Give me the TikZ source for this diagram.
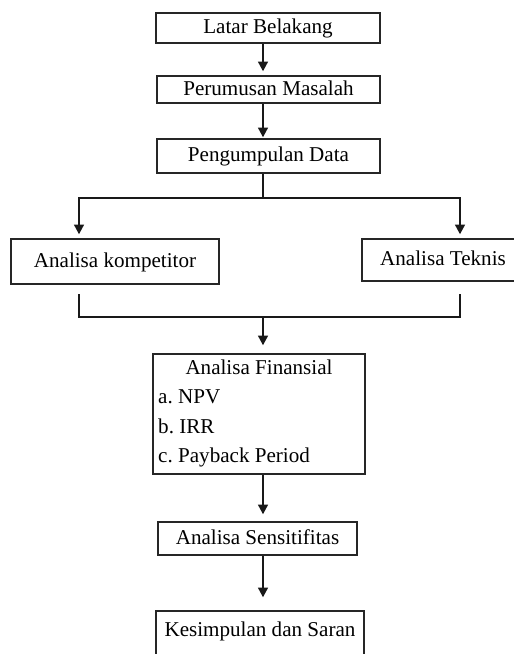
\documentclass[tikz,border=0pt]{standalone}
\usepackage{fontspec}
\setmainfont{Liberation Serif}
\usepackage{xcolor}
\usetikzlibrary{arrows.meta,positioning,calc}
\frenchspacing

\begin{document}
\begin{tikzpicture}[x=0.3mm, y=-0.3mm,
    box/.style={draw=black!85, line width=1.3pt, inner sep=0pt,
        font=\fontsize{18}{22}\selectfont, text height=13pt, text depth=3pt},
    line/.style={draw=black!90, line width=1.2pt},
    arr/.style={line, -{Triangle[width=3mm, length=2.9mm]}},
    item/.style={inner sep=0pt, anchor=base west, font=\fontsize{18}{22}\selectfont}]
    \useasboundingbox (0,0) rectangle (513,654);

    % Main column
    \node[box, minimum width=67.2mm, minimum height=9mm] (lb) at (268,28) {Latar Belakang};
    \node[box, minimum width=66.9mm, minimum height=8.1mm] (pm) at (268.5,89.5) {Perumusan Masalah};
    \node[box, minimum width=66.9mm, minimum height=10.2mm] (pd) at (268.5,156) {Pengumpulan Data};

    % Two analyses
    \node[box, minimum width=62.4mm, minimum height=13.5mm] (ak) at (115,261.5) {Analisa kompetitor};
    \node[box, minimum width=48.6mm, minimum height=12.6mm] (at) at (443,260) {Analisa Teknis};

    % Financial analysis with its list
    \node[box, minimum width=63.6mm, minimum height=36mm] (af) at (259,414) {};
    \node[item, anchor=base] (aft) at (259,374) {Analisa Finansial};
    \node[item] (npv) at (158,403) {a. NPV};
    \node[item] (irr) at (158,433) {b. IRR};
    \node[item] (pbp) at (158,462) {c. Payback Period};

    \node[box, minimum width=59.7mm, minimum height=9.9mm] (as) at (257.5,538.5) {Analisa Sensitifitas};
    \node[box, minimum width=62.4mm, minimum height=13.8mm, text depth=8pt] (ks) at (260,634) {Kesimpulan dan Saran};

    % Helper coordinates
    \coordinate (axis) at (263,0);
    \coordinate (bm) at (263,198);
    \coordinate (bl) at (79,198);
    \coordinate (br) at (460,198);
    \coordinate (jlt) at (79,294);
    \coordinate (jrt) at (460,294);
    \coordinate (jm) at (263,317);

    % Arrows down the column
    \draw[arr, shorten >=1.2mm] (lb.south -| axis) -- (pm.north -| axis);
    \draw[arr, shorten >=0.3mm] (pm.south -| axis) -- (pd.north -| axis);

    % Split
    \draw[line] (pd.south -| axis) -- (bm);
    \draw[arr, shorten >=1.2mm] (bm) -| (bl |- ak.north);
    \draw[arr, shorten >=1.2mm] (bm) -| (br |- at.north);

    % Join
    \draw[line] (jlt) |- (jm) -| (jrt);
    \draw[arr, shorten >=2.4mm] (jm) -- (af.north -| axis);

    \draw[arr, shorten >=2.1mm] (af.south -| axis) -- (as.north -| axis);
    \draw[arr, shorten >=3.9mm] (as.south -| axis) -- (ks.north -| axis);
\end{tikzpicture}
\end{document}
